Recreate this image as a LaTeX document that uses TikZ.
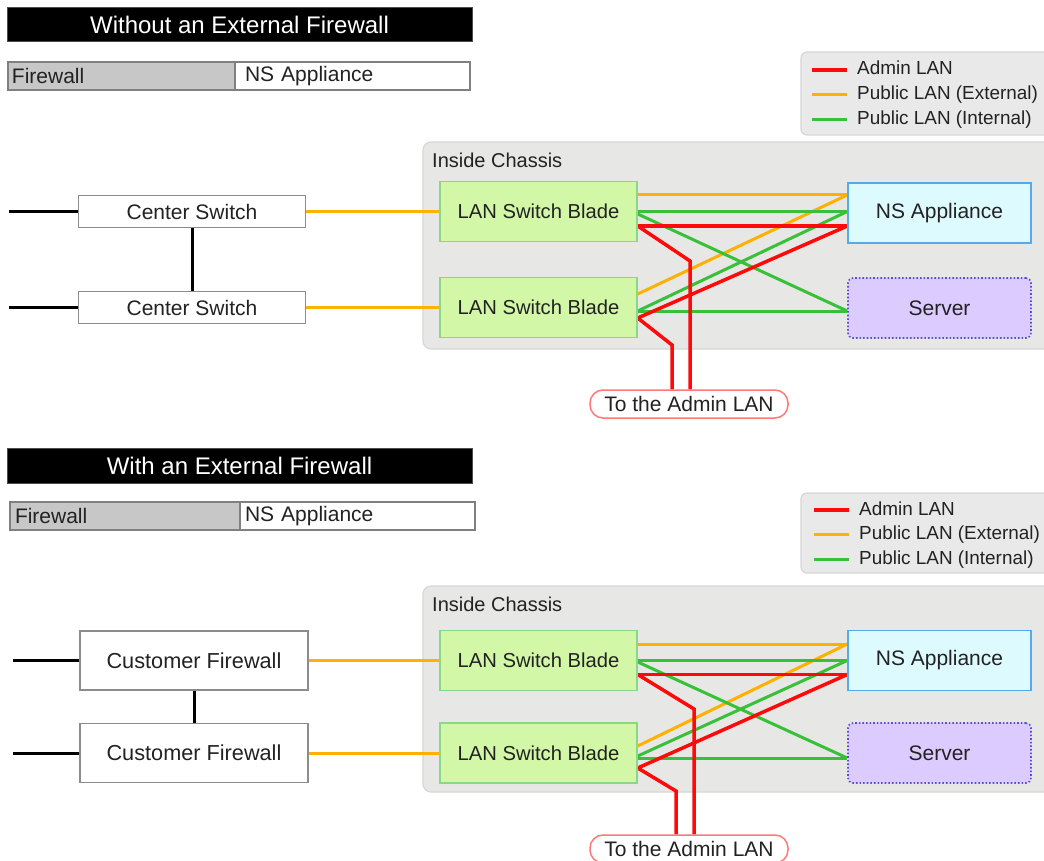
\documentclass[tikz,border=0pt]{standalone}
\usepackage{fontspec}
\setmainfont{Liberation Sans}
\usetikzlibrary{calc}
\definecolor{cOrange}{HTML}{FFB000}
\definecolor{cGreen}{HTML}{38C038}
\definecolor{cRed}{HTML}{FF0A0A}
\definecolor{bladeFill}{HTML}{D2F7A6}
\definecolor{bladeDraw}{HTML}{88D888}
\definecolor{nsFill}{HTML}{DDFAFF}
\definecolor{nsDraw}{HTML}{55AAEE}
\definecolor{srvFill}{HTML}{DCCBFF}
\definecolor{srvDraw}{HTML}{5A4FCF}
\definecolor{chFill}{HTML}{E7E8E6}
\definecolor{chDraw}{HTML}{D6D6D6}
\definecolor{lgFill}{HTML}{E9E9E9}
\definecolor{adDraw}{HTML}{FF7777}
\definecolor{txt}{HTML}{222222}
\pgfdeclarelayer{bg}
\pgfdeclarelayer{ln}
\pgfsetlayers{bg,ln,main}
\tikzset{
  every node/.style={text=txt, font=\fontsize{21}{25}\selectfont},
  titlebar/.style={fill=black, draw=black!70, text=white, minimum width=465pt, minimum height=34pt, inner sep=0pt, font=\fontsize{24}{28}\selectfont},
  cellgray/.style={fill=black!22, draw=black!50, line width=1.5pt, minimum height=28pt, inner ysep=0pt, align=left},
  cellwhite/.style={fill=white, draw=black!50, line width=1.5pt, minimum height=28pt, inner ysep=0pt, align=left},
  plainbox/.style={draw=black!45, line width=1.5pt, fill=white, inner sep=0pt, minimum width=227pt},
  blade/.style={draw=bladeDraw, fill=bladeFill, line width=1.5pt, minimum width=197pt, minimum height=60pt, inner sep=0pt, font=\fontsize{20.2}{24}\selectfont},
  nsapp/.style={draw=nsDraw, fill=nsFill, line width=1.5pt, minimum width=183pt, minimum height=60pt, inner sep=0pt},
  serverbox/.style={draw=srvDraw, fill=srvFill, line width=1.6pt, dotted, rounded corners=5pt, minimum width=183pt, minimum height=60pt, inner sep=0pt},
  adminbox/.style={draw=adDraw, fill=white, line width=1.5pt, rounded corners=13pt, minimum width=198pt, minimum height=28pt, inner sep=0pt},
  lbl/.style={inner sep=0pt, anchor=west, font=\fontsize{20}{24}\selectfont},
  legtext/.style={inner sep=0pt, anchor=base west, font=\fontsize{18.9}{22}\selectfont},
  chassis/.style={fill=chFill, draw=chDraw, line width=1.2pt, rounded corners=8pt},
  legendbox/.style={fill=lgFill, draw=chDraw, line width=1.2pt, rounded corners=6pt},
  orangeln/.style={draw=cOrange, line width=3pt},
  greenln/.style={draw=cGreen, line width=3pt},
  redln/.style={draw=cRed, line width=3.5pt, line join=miter},
  blackln/.style={draw=black, line width=3pt},
}
\begin{document}
\begin{tikzpicture}[x=1pt,y=-1pt]
\useasboundingbox (0,0) rectangle (1044,861);

% ================= TOP =================
\node[titlebar] (t1) at (239.5,24.5) {Without an External Firewall};
\node[cellgray, text width=219pt, inner xsep=4pt] (fw1) at (121.5,76) {Firewall};
\node[cellwhite, text width=215pt, inner xsep=10pt] (na1) at (352.5,76) {NS Appliance};

\begin{pgfonlayer}{bg}
  \draw[legendbox] (801,52) rectangle (1070,135);
  \draw[chassis] (423,142) rectangle (1070,349);
\end{pgfonlayer}
\node[legtext] (la1) at (857,75) {Admin LAN};
\node[legtext] (lb1) at (857,100) {Public LAN (External)};
\node[legtext] (lc1) at (857,125) {Public LAN (Internal)};
\draw[redln] ([xshift=-10pt,yshift=5pt]la1.base west) -- ++(-35,0);
\draw[orangeln] ([xshift=-10pt,yshift=5pt]lb1.base west) -- ++(-35,0);
\draw[greenln] ([xshift=-10pt,yshift=5pt]lc1.base west) -- ++(-35,0);

\node[lbl] (ic1) at (432,160) {Inside Chassis};
\node[blade] (b1) at (538.5,211.5) {LAN Switch Blade};
\node[blade] (b2) at (538.5,307.5) {LAN Switch Blade};
\node[nsapp] (n1) at (939.5,213) {NS Appliance};
\node[serverbox] (s1) at (939.5,308) {Server};
\node[plainbox, minimum height=32pt] (c1) at (192,211.5) {Center Switch};
\node[plainbox, minimum height=32pt] (c2) at (192,307.5) {Center Switch};
\node[adminbox] (a1) at (689,404) {To the Admin LAN};
\coordinate (e1) at (9,211.5);
\coordinate (e2) at (9,307.5);
\coordinate (k1) at (690,261);
\coordinate (k2) at (672,345);

\begin{pgfonlayer}{ln}
  \draw[blackln] (e1) -- (c1.west);
  \draw[blackln] (e2) -- (c2.west);
  \draw[blackln] (c1.south) -- (c2.north);
  \draw[orangeln] (c1.east) -- (b1.west);
  \draw[orangeln] (c2.east) -- (b2.west);
  \draw[orangeln] ([yshift=16.5pt]b1.east) -- ([yshift=18pt]n1.west);
  \draw[orangeln] ([yshift=13.5pt]b2.east) -- ([yshift=18pt]n1.west);
  \draw[greenln] ([yshift=0pt]b1.east) -- ([yshift=1.5pt]n1.west);
  \draw[greenln] ([yshift=-2.5pt]b1.east) -- ([yshift=-3pt]s1.west);
  \draw[greenln] ([yshift=-3.5pt]b2.east) -- ([yshift=1.5pt]n1.west);
  \draw[greenln] ([yshift=-3.5pt]b2.east) -- ([yshift=-3pt]s1.west);
  \draw[redln] ([yshift=-14.5pt]b1.east) -- ([yshift=-13pt]n1.west);
  \draw[redln] ([yshift=-10.5pt]b2.east) -- ([yshift=-13pt]n1.west);
  \draw[redln] ([yshift=-14.5pt]b1.east) -- (k1) -- (k1 |- a1.north);
  \draw[redln] ([yshift=-10.5pt]b2.east) -- (k2) -- (k2 |- a1.north);
\end{pgfonlayer}

% ================= BOTTOM =================
\node[titlebar, minimum height=35pt] (t2) at (239.5,466) {With an External Firewall};
\node[cellgray, text width=220pt, inner xsep=5pt] (fw2) at (125,516) {Firewall};
\node[cellwhite, text width=225pt, inner xsep=5pt] (na2) at (357.5,516) {NS Appliance};

\begin{pgfonlayer}{bg}
  \draw[legendbox] (801,493) rectangle (1070,573);
  \draw[chassis] (423,586) rectangle (1070,792);
\end{pgfonlayer}
\node[legtext] (la2) at (859,515) {Admin LAN};
\node[legtext] (lb2) at (859,539) {Public LAN (External)};
\node[legtext] (lc2) at (859,564) {Public LAN (Internal)};
\draw[redln] ([xshift=-10pt,yshift=5pt]la2.base west) -- ++(-35,0);
\draw[orangeln] ([xshift=-10pt,yshift=5pt]lb2.base west) -- ++(-35,0);
\draw[greenln] ([xshift=-10pt,yshift=5pt]lc2.base west) -- ++(-35,0);

\node[lbl] (ic2) at (432,604) {Inside Chassis};
\node[blade] (b3) at (538.5,660.5) {LAN Switch Blade};
\node[blade] (b4) at (538.5,753) {LAN Switch Blade};
\node[nsapp] (n2) at (939.5,660.5) {NS Appliance};
\node[serverbox] (s2) at (939.5,753) {Server};
\node[plainbox, minimum width=228pt, minimum height=59pt, font=\fontsize{21.7}{26}\selectfont] (f1) at (194,660.5) {Customer Firewall};
\node[plainbox, minimum width=228pt, minimum height=59pt, font=\fontsize{21.7}{26}\selectfont] (f2) at (194,753) {Customer Firewall};
\node[adminbox] (a2) at (689,849) {To the Admin LAN};
\coordinate (e3) at (13,660.5);
\coordinate (e4) at (13,753);
\coordinate (k3) at (694,709);
\coordinate (k4) at (676,791);

\begin{pgfonlayer}{ln}
  \draw[blackln] (e3) -- (f1.west);
  \draw[blackln] (e4) -- (f2.west);
  \draw[blackln] (f1.south) -- (f2.north);
  \draw[orangeln] (f1.east) -- (b3.west);
  \draw[orangeln] (f2.east) -- (b4.west);
  \draw[orangeln] ([yshift=16.5pt]b3.east) -- ([yshift=16.5pt]n2.west);
  \draw[orangeln] ([yshift=7pt]b4.east) -- ([yshift=16.5pt]n2.west);
  \draw[greenln] (b3.east) -- (n2.west);
  \draw[greenln] ([yshift=-1.5pt]b3.east) -- ([yshift=-5pt]s2.west);
  \draw[greenln] ([yshift=-3pt]b4.east) -- (n2.west);
  \draw[greenln] ([yshift=-5pt]b4.east) -- ([yshift=-5pt]s2.west);
  \draw[redln] ([yshift=-14pt]b3.east) -- ([yshift=-14pt]n2.west);
  \draw[redln] ([yshift=-15pt]b4.east) -- ([yshift=-14pt]n2.west);
  \draw[redln] ([yshift=-14pt]b3.east) -- (k3) -- (k3 |- a2.north);
  \draw[redln] ([yshift=-15pt]b4.east) -- (k4) -- (k4 |- a2.north);
\end{pgfonlayer}
\end{tikzpicture}
\end{document}
